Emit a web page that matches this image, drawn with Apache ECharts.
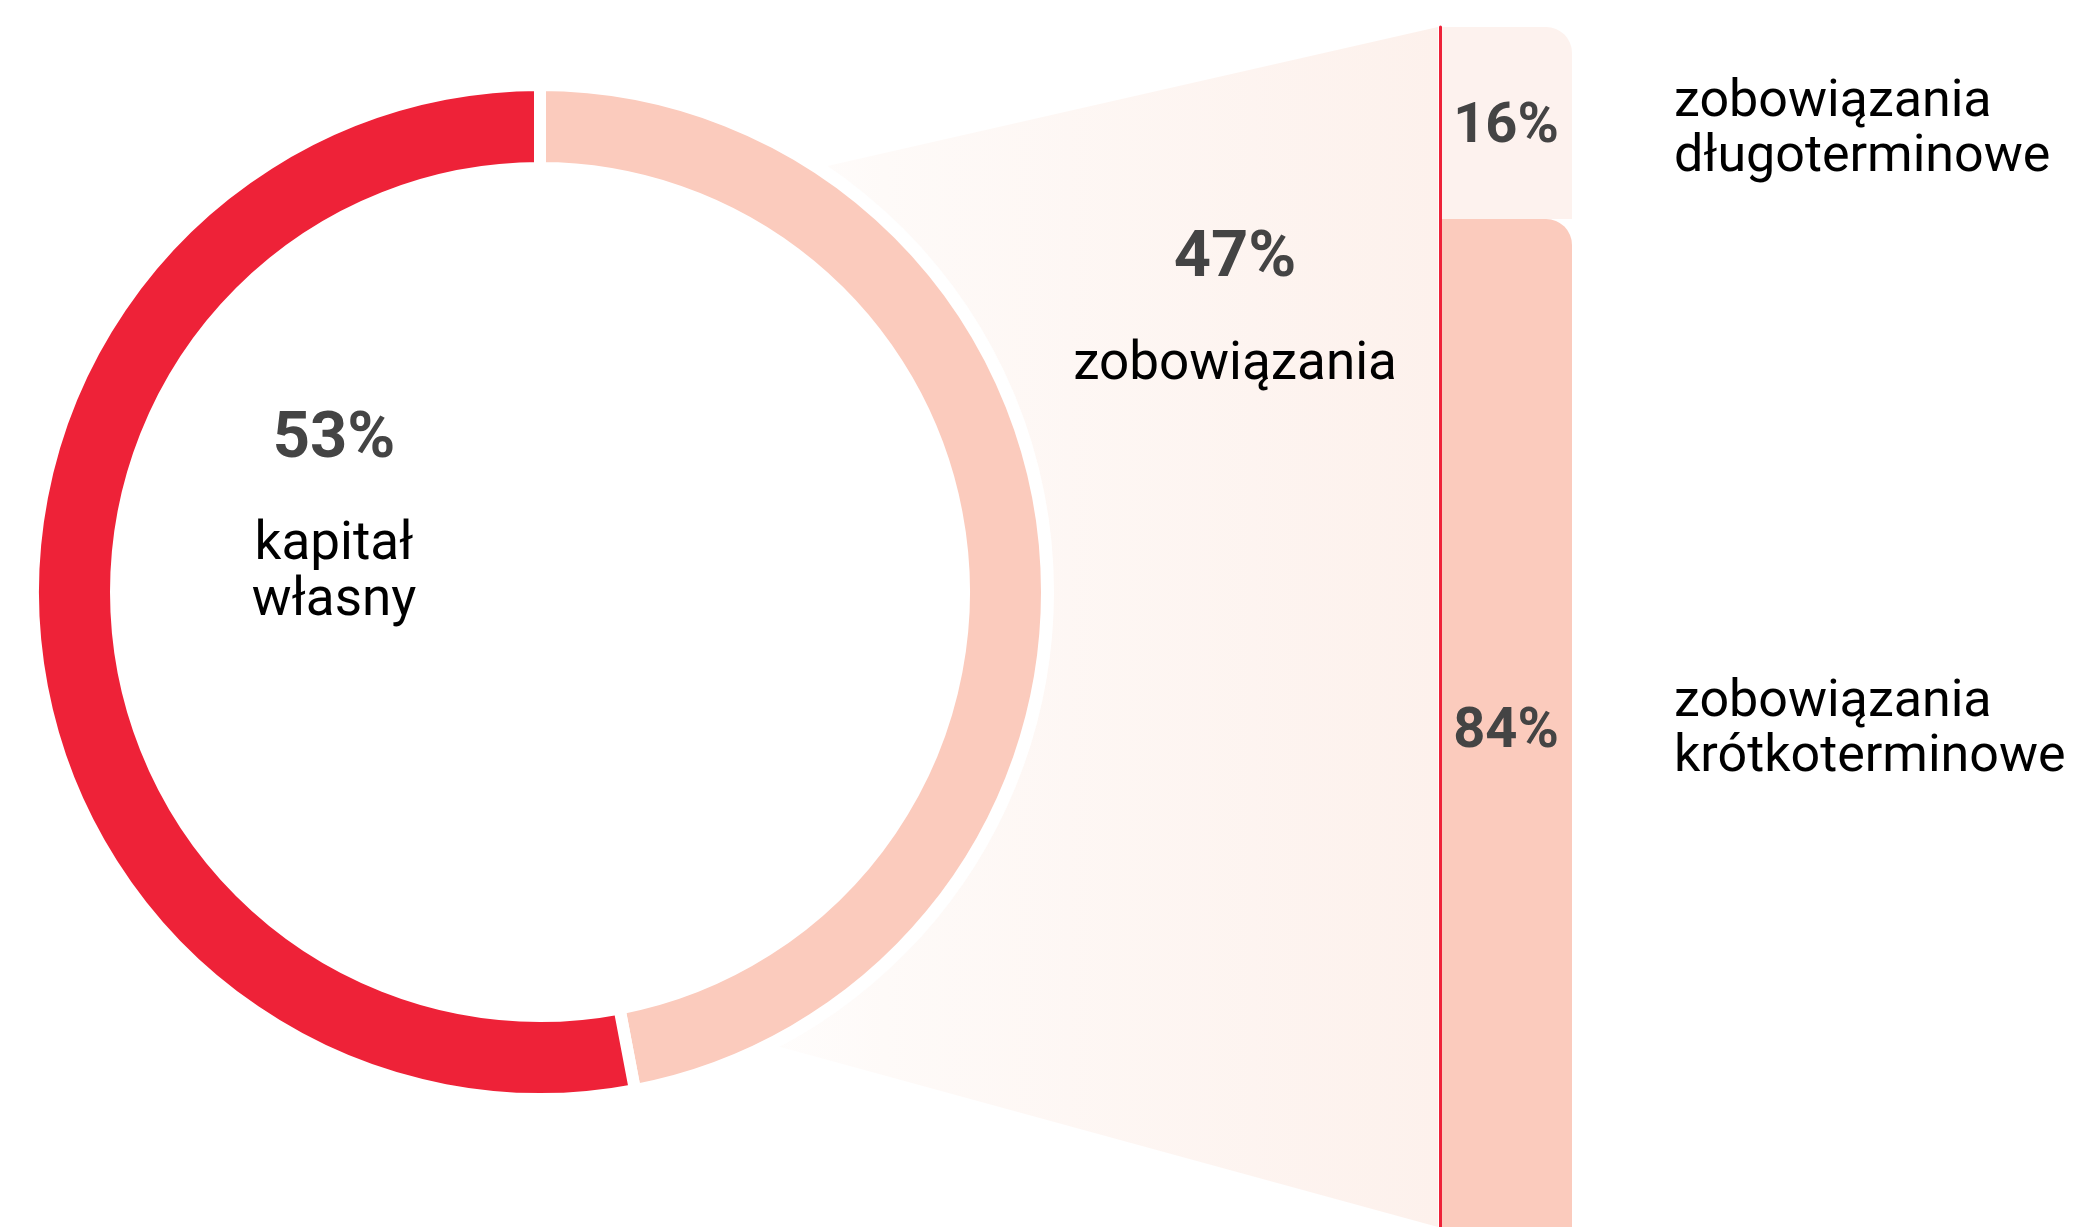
<!DOCTYPE html>
<html>
<head>
<meta charset="utf-8">
<script src="https://cdn.jsdelivr.net/npm/echarts@6/dist/echarts.min.js"></script>
<style>
  html, body { margin: 0; padding: 0; background: #fff; }
  #chart { width: 2080px; height: 1227px; }
</style>
</head>
<body>
<div id="chart"></div>
<script>
// struktura pasywów
const mainNames = ['zobowiązania', 'kapitał własny']
const mainValues = [47, 53]
const mainColors = ['#FBCBBD', '#EE2238']
// rozbicie zobowiązań (od dołu słupka)
const debtNames = ['zobowiązania\nkrótkoterminowe', 'zobowiązania\ndługoterminowe']
const debtValues = [84, 16]
const debtColors = ['#FBCBBD', '#FDF2EE']

const FONT = 'Roboto, "Noto Sans", sans-serif'
const chart = echarts.init(document.getElementById('chart'))

const pieCenter = [540, 592]

chart.setOption({
  animation: false,
  backgroundColor: '#ffffff',
  grid: { left: 1440, width: 132, top: 27, height: 1200 },
  xAxis: {
    type: 'category',
    data: ['zobowiązania'],
    show: false,
  },
  yAxis: {
    type: 'value',
    min: 0,
    max: 100,
    z: 5,
    splitLine: { show: false },
    axisTick: { show: false },
    axisLabel: { show: false },
    axisLine: { show: true, lineStyle: { color: '#EE2238', width: 3 } },
  },
  series: [
    // biale tlo pod pierscieniem (zaslania trapez)
    {
      type: 'pie',
      silent: true,
      z: 1,
      center: pieCenter,
      radius: [0, 514],
      startAngle: 90,
      label: { show: false },
      labelLine: { show: false },
      itemStyle: { color: '#ffffff' },
      data: mainValues.map((v, i) => ({ name: mainNames[i], value: v })),
    },
    {
      type: 'pie',
      silent: true,
      z: 2,
      center: pieCenter,
      radius: [424, 507],
      startAngle: 90,
      clockwise: true,
      label: { show: false },
      labelLine: { show: false },
      itemStyle: { borderColor: '#ffffff', borderWidth: 12 },
      data: mainValues.map((v, i) => ({
        name: mainNames[i],
        value: v,
        itemStyle: { color: mainColors[i] },
      })),
    },
    ...debtValues.map((v, i) => ({
      type: 'bar',
      name: debtNames[i],
      stack: 'debt',
      silent: true,
      z: 2,
      barWidth: '100%',
      data: [v],
      itemStyle: { color: debtColors[i], borderRadius: [0, 26, 0, 0] },
      label: {
        show: true,
        position: 'inside',
        offset: [0, i === 0 ? 10 : 5],
        formatter: '{c}%',
        color: '#444444',
        fontFamily: FONT,
        fontWeight: 'bold',
        fontSize: 56,
      },
    })),
  ],
})

// pozycje slupkow -> trapez i opisy
let acc = 0
const mids = debtValues.map((v) => {
  const m = acc + v / 2
  acc += v
  return chart.convertToPixel({ gridIndex: 0 }, [0, m])[1]
})
const topY = chart.convertToPixel({ gridIndex: 0 }, [0, 100])[1]
const botY = chart.convertToPixel({ gridIndex: 0 }, [0, 0])[1]
const barLeft = 1438
const barRight = 1572

const graphic = [
  {
    type: 'polygon',
    z: 0,
    silent: true,
    shape: { points: [[700, 195], [barLeft, topY], [barLeft, botY], [700, 1025]] },
    style: {
      fill: {
        type: 'linear', x: 0, y: 0, x2: 1, y2: 0,
        colorStops: [
          { offset: 0, color: '#ffffff' },
          { offset: 0.25, color: '#FEFAF8' },
          { offset: 1, color: '#FDF1EC' },
        ],
      },
    },
  },
  {
    type: 'text', z: 10, x: 334, y: 441,
    style: {
      text: mainValues[1] + '%', fill: '#444444', font: 'bold 65px ' + FONT,
      textAlign: 'center', textVerticalAlign: 'middle',
    },
  },
  {
    type: 'text', z: 10, x: 334, y: 574,
    style: {
      text: 'kapitał\nwłasny', fill: '#000000', font: '53px ' + FONT, lineHeight: 56,
      textAlign: 'center', textVerticalAlign: 'middle',
    },
  },
  {
    type: 'text', z: 10, x: 1235, y: 260,
    style: {
      text: mainValues[0] + '%', fill: '#444444', font: 'bold 65px ' + FONT,
      textAlign: 'center', textVerticalAlign: 'middle',
    },
  },
  {
    type: 'text', z: 10, x: 1235, y: 366,
    style: {
      text: mainNames[0], fill: '#000000', font: '53px ' + FONT,
      textAlign: 'center', textVerticalAlign: 'middle',
    },
  },
]
debtNames.forEach((n, i) => {
  graphic.push({
    type: 'text', z: 10, x: barRight + 102, y: mids[i] + 7,
    style: {
      text: n, fill: '#000000', font: '52px ' + FONT, lineHeight: 55,
      textAlign: 'left', textVerticalAlign: 'middle',
    },
  })
})
chart.setOption({ graphic: graphic })
</script>
</body>
</html>
